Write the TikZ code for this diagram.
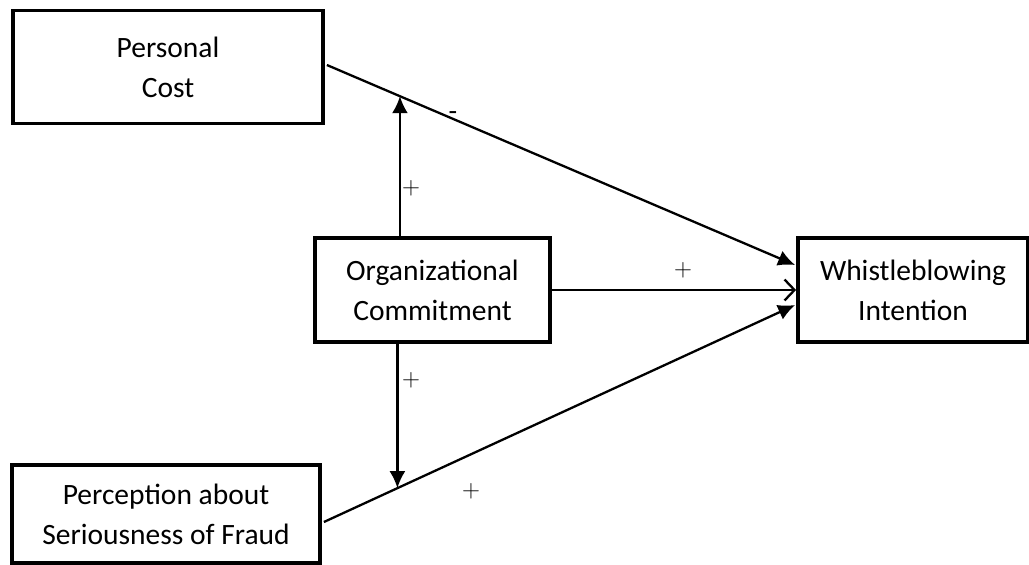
\documentclass[tikz,border=0pt]{standalone}
\usepackage{fontspec}
\setmainfont{Carlito}
\usetikzlibrary{arrows.meta,calc}
\begin{document}
\begin{tikzpicture}[x=1pt,y=-1pt,
  box/.style={draw,line width=3.8pt,align=center,inner sep=0pt,
    font=\fontsize{29.5}{40}\selectfont},
  conn/.style={line width=2.3pt},
  fill tip/.style={-{Latex[length=17pt,width=16pt]}},
  open tip/.style={-{Straight Barb[length=10pt,width=21pt,line width=2.3pt]}},
  sign/.style={font=\fontsize{28}{30}\selectfont}]
\useasboundingbox (0,0) rectangle (1029,565);
\node[box,minimum width=310pt,minimum height=113pt] (PC) at (168,67) {Personal\\Cost};
\node[box,minimum width=235pt,minimum height=104pt] (OC) at (432.5,290) {Organizational\\Commitment};
\node[box,minimum width=230pt,minimum height=104pt] (WI) at (913,290) {Whistleblowing\\Intention};
\node[box,minimum width=308pt,minimum height=98pt] (PS) at (166,514) {Perception about\\Seriousness of Fraud};
\coordinate (s1) at ($(PC.east)+(2,-2)$);
\coordinate (e1) at ($(WI.west)+(-1,-25)$);
\coordinate (s2) at ($(PS.east)+(2,8)$);
\coordinate (e2) at ($(WI.west)+(-1,15)$);
\coordinate (m1) at ($(s1)!0.156!(e1)$);
\coordinate (m2) at ($(s2)!0.156!(e2)$);
\draw[conn,fill tip] (s1) -- (e1);
\draw[conn,fill tip] (s2) -- (e2);
\draw[conn,open tip] (OC.east) -- (WI.west);
\draw[conn,fill tip] (OC.north -| m1) -- (m1);
\draw[conn,fill tip] (OC.south -| m2) -- (m2);
\node[sign] (l1) at (453,116) {-};
\node[sign] (l2) at (411,188) {$+$};
\node[sign] (l3) at (683,270) {$+$};
\node[sign] (l4) at (411,380) {$+$};
\node[sign] (l5) at (471,491) {$+$};
\end{tikzpicture}
\end{document}
